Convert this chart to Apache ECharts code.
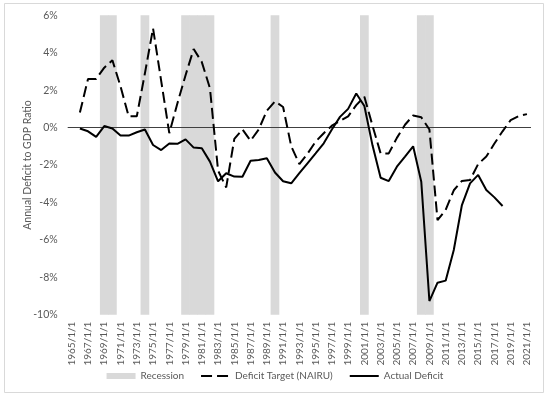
<!DOCTYPE html>
<html>
<head>
<meta charset="utf-8">
<script src="https://cdn.jsdelivr.net/npm/echarts@6/dist/echarts.min.js"></script>
<style>
html,body{margin:0;padding:0;background:#fff;}
#chart{width:550px;height:398px;}
</style>
</head>
<body>
<div id="chart"></div>
<script>
// Categories: 1965 .. 2021
var startYear = 1965;
var endYear = 2021;
var categories = [];
for (var y = startYear; y <= endYear; y++) categories.push(y + '/1/1');

// Recession years (shaded)
var recessionYears = [1969, 1970, 1974, 1979, 1980, 1981, 1982, 1990, 2001, 2008, 2009];

// Deficit Target (NAIRU), % of GDP, 1965..2021 (null = no data)
var deficitTarget = [
  null, 0.8, 2.6, 2.6, 3.2, 3.6, 2.2, 0.6, 0.6, 2.9,
  5.3, 2.5, -0.3, 1.3, 2.8, 4.2, 3.5, 2.1, -2.3, -3.2,
  -0.6, -0.1, -0.7, -0.1, 0.9, 1.4, 1.1, -1.0, -1.95, -1.4,
  -0.75, -0.3, 0.1, 0.35, 0.6, 1.2, 1.65, 0.1, -1.38, -1.38,
  -0.55, 0.15, 0.65, 0.55, -0.1, -4.95, -4.4, -3.35, -2.85, -2.8,
  -1.95, -1.55, -0.85, -0.2, 0.4, 0.62, 0.72
];

// Actual Deficit, % of GDP, 1965..2018
var actualDeficit = [
  null, -0.05, -0.2, -0.5, 0.08, -0.05, -0.43, -0.43, -0.25, -0.1,
  -0.93, -1.2, -0.85, -0.87, -0.63, -1.07, -1.1, -1.82, -2.87, -2.44,
  -2.62, -2.63, -1.77, -1.73, -1.64, -2.4, -2.87, -2.98, -2.44, -1.91,
  -1.38, -0.84, -0.1, 0.57, 1.0, 1.82, 1.15, -0.95, -2.68, -2.86,
  -2.09, -1.55, -1.0, -2.89, -9.27, -8.29, -8.18, -6.54, -4.14, -2.98,
  -2.53, -3.34, -3.73, -4.19
];

var yMin = -10, yMax = 6, yStep = 2;

// indices of recession categories
var recessionData = recessionYears.map(function (yr) {
  return [categories.indexOf(yr + '/1/1')];
});

var FONT = 'Lato';
var TXT = '#595959';
var REC = '#d9d9d9';
var noSymbol = {color: 'rgba(0,0,0,0)', borderWidth: 0, opacity: 0};

function renderRecession(params, api) {
  var idx = api.value(0);
  var top = api.coord([idx, yMax]);
  var bot = api.coord([idx, yMin]);
  var w = api.size([1, 0])[0];
  return {
    type: 'rect',
    shape: {x: top[0] - w / 2 - 0.3, y: top[1], width: w + 0.6, height: bot[1] - top[1]},
    style: {fill: REC}
  };
}

var chart = echarts.init(document.getElementById('chart'), null, {renderer: 'canvas'});
chart.setOption({
  animation: false,
  backgroundColor: '#ffffff',
  textStyle: {fontFamily: FONT},
  graphic: [{
    type: 'rect',
    z: -10,
    shape: {x: 4.5, y: 3.5, width: 539, height: 389},
    style: {fill: 'none', stroke: '#d9d9d9', lineWidth: 1}
  }],
  grid: {left: 67.7, right: 19, top: 15.3, bottom: 83.3, containLabel: false},
  legend: {
    left: 'center',
    top: 366,
    itemWidth: 29,
    itemHeight: 6,
    itemGap: 16,
    textStyle: {color: TXT, fontSize: 10, fontFamily: FONT},
    data: [
      {name: 'Recession', icon: 'rect', itemStyle: {color: REC}},
      {name: 'Deficit Target (NAIRU)', itemStyle: noSymbol},
      {name: 'Actual Deficit', itemStyle: noSymbol}
    ]
  },
  xAxis: {
    type: 'category',
    data: categories,
    boundaryGap: true,
    axisLine: {show: false},
    axisTick: {show: false},
    splitLine: {show: false},
    axisLabel: {
      interval: 1,
      rotate: 90,
      margin: 7,
      color: TXT,
      fontSize: 10,
      fontFamily: FONT
    }
  },
  yAxis: {
    type: 'value',
    min: yMin,
    max: yMax,
    interval: yStep,
    name: 'Annual Deficit to GDP Ratio',
    nameLocation: 'middle',
    nameGap: 35,
    nameMoveOverlap: false,
    nameTextStyle: {color: TXT, fontSize: 10.5, fontFamily: FONT},
    axisLine: {show: false},
    axisTick: {show: false},
    splitLine: {show: false},
    axisLabel: {formatter: '{value}%', color: TXT, fontSize: 10.5, margin: 10, fontFamily: FONT}
  },
  series: [{
    name: 'Recession',
    type: 'custom',
    renderItem: renderRecession,
    data: recessionData,
    encode: {x: 0},
    itemStyle: {color: REC},
    silent: true,
    z: 1
  }, {
    name: 'Deficit Target (NAIRU)',
    type: 'line',
    data: deficitTarget,
    symbol: 'none',
    lineStyle: {color: '#000000', width: 2, type: [11, 5]},
    itemStyle: {color: '#000000'},
    z: 3,
    markLine: {
      silent: true,
      symbol: 'none',
      label: {show: false},
      lineStyle: {color: '#404040', width: 1, type: 'solid'},
      data: [{yAxis: 0}],
      z: 2
    }
  }, {
    name: 'Actual Deficit',
    type: 'line',
    data: actualDeficit,
    symbol: 'none',
    lineStyle: {color: '#000000', width: 2, type: 'solid'},
    itemStyle: {color: '#000000'},
    z: 4
  }]
});
</script>
</body>
</html>
